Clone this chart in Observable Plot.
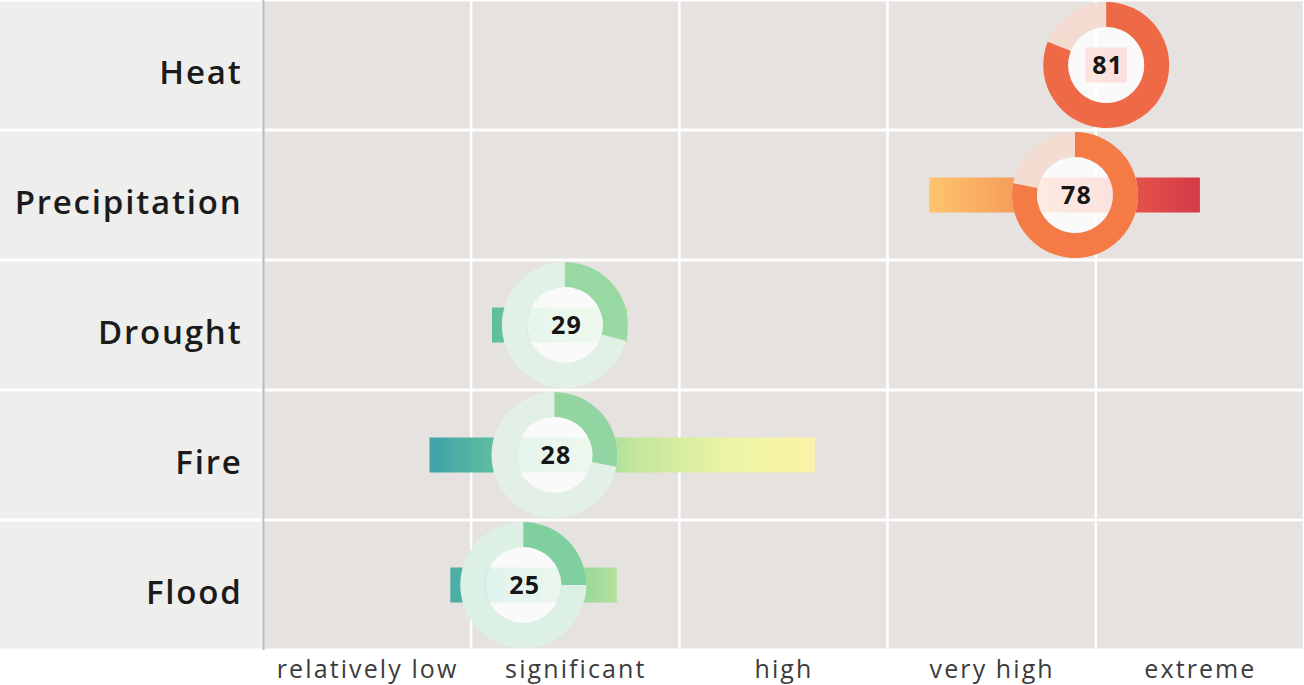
<!DOCTYPE html>
<html>
<head>
<meta charset="utf-8">
<script src="https://cdn.jsdelivr.net/npm/d3@7"></script>
<script src="https://cdn.jsdelivr.net/npm/@observablehq/plot@0.6"></script>
<style>
  html, body { margin: 0; padding: 0; background: #ffffff; }
  #chart { width: 1304px; height: 685px; }
  #chart svg g[aria-label="y-axis tick label"] { letter-spacing: 1.8px; }
  #chart svg g[aria-label="x-axis tick label"] { letter-spacing: 2.1px; }
  #chart svg g[aria-label="text"] { letter-spacing: 1.2px; }
</style>
</head>
<body>
<div id="chart"></div>
<script>
// ---- data ----
const risks = ["Heat", "Precipitation", "Drought", "Fire", "Flood"];
const scores = [81, 78, 29, 28, 25];
const rangeLow = [79, 64, 22, 16, 18];
const rangeHigh = [83, 90, 35, 53, 34];
const arcColors = ["#ee6a47", "#f47b46", "#97d8a3", "#93d5a2", "#7fcf9f"];
const trackColors = ["#f4dbd1", "#f3dcd2", "#e2f1e6", "#e3f0e6", "#ddf0e5"];
const bandLabels = ["relatively low", "significant", "high", "very high", "extreme"];
const bandEdges = [0, 20, 40, 60, 80, 100];
const gradientValues = [15, 22, 30, 36, 45, 53, 64, 72, 82, 90];
const gradientColors = ["#3a9ea9", "#5dbd9f", "#93d69b", "#c3e79b", "#ecf5a5", "#fbf3a6", "#fdc56e", "#f59e5a", "#e85a4a", "#d43a48"];

// ---- derived tables ----
const rows = risks.map((risk, i) => ({
  risk, score: scores[i], lo: rangeLow[i], hi: rangeHigh[i],
  arc: arcColors[i], track: trackColors[i]
}));
const bandCenters = bandEdges.slice(1).map((e, i) => (e + bandEdges[i]) / 2);
const cells = risks.flatMap(risk => bandEdges.slice(1).map((e, i) => ({risk, x1: bandEdges[i], x2: e})));

const R_OUT = 63, R_IN = 38;

function gradientDefs(index, scales) {
  const g = d3.create("svg:g");
  const lg = g.append("defs").append("linearGradient")
    .attr("id", "riskGradient")
    .attr("gradientUnits", "userSpaceOnUse")
    .attr("x1", scales.x(0)).attr("x2", scales.x(100))
    .attr("y1", 0).attr("y2", 0);
  gradientValues.forEach((v, i) => {
    lg.append("stop").attr("offset", v / 100).attr("stop-color", gradientColors[i]);
  });
  return g.node();
}

function labelPanels(index, scales, values, dims) {
  const g = d3.create("svg:g");
  const bw = scales.y.bandwidth();
  for (const r of risks) {
    g.append("rect")
      .attr("x", 0).attr("width", dims.marginLeft - 1)
      .attr("y", scales.y(r) + 1.5).attr("height", bw - 3)
      .attr("fill", "#eeeeec");
  }
  return g.node();
}

function donuts(index, scales) {
  const g = d3.create("svg:g");
  const bw = scales.y.bandwidth();
  const ring = d3.arc().innerRadius(R_IN).outerRadius(R_OUT).startAngle(0);
  for (const d of rows) {
    const cx = scales.x(d.score), cy = scales.y(d.risk) + bw / 2;
    const c = g.append("g").attr("transform", `translate(${cx},${cy})`);
    c.append("path").attr("d", ring.endAngle(2 * Math.PI)()).attr("fill", d.track);
    c.append("path").attr("d", ring.endAngle(d.score / 100 * 2 * Math.PI)()).attr("fill", d.arc);
    c.append("circle").attr("r", R_IN).attr("fill", "#ffffff").attr("fill-opacity", 0.82);
  }
  return g.node();
}

const plot = Plot.plot({
  width: 1304,
  height: 685,
  marginLeft: 263,
  marginRight: 0,
  marginTop: 0,
  marginBottom: 35,
  style: {fontFamily: "'Open Sans', 'Noto Sans', sans-serif", background: "transparent", color: "#1b1b1b"},
  x: {domain: [0, 100], axis: null},
  y: {domain: risks, padding: 0, axis: null},
  marks: [
    gradientDefs,
    labelPanels,
    Plot.barX(cells, {x1: "x1", x2: "x2", y: "risk", fill: "#e5e2e0", insetTop: 1.5, insetBottom: 1.5, insetLeft: 1.2, insetRight: 1.2}),
    Plot.ruleX([0], {stroke: "#b9b9b9", strokeWidth: 2}),
    Plot.barX(rows, {x1: "lo", x2: "hi", y: "risk", fill: "url(#riskGradient)", insetTop: 47.5, insetBottom: 47.5}),
    donuts,
    Plot.text(rows, {x: "score", y: "risk", text: d => String(d.score), fontSize: 25, fontWeight: 700, fill: "#161616", dx: 1, dy: 0}),
    Plot.axisY({tickSize: 0, tickPadding: 21, fontSize: 33, fontWeight: 600, fill: "#1b1b1b", label: null, dy: 8}),
    Plot.axisX({ticks: bandCenters, tickFormat: d => bandLabels[bandCenters.indexOf(d)], tickSize: 0, tickPadding: 10, fontSize: 25, fill: "#3c3c3c", label: null})
  ]
});
document.getElementById("chart").appendChild(plot);
</script>
</body>
</html>
